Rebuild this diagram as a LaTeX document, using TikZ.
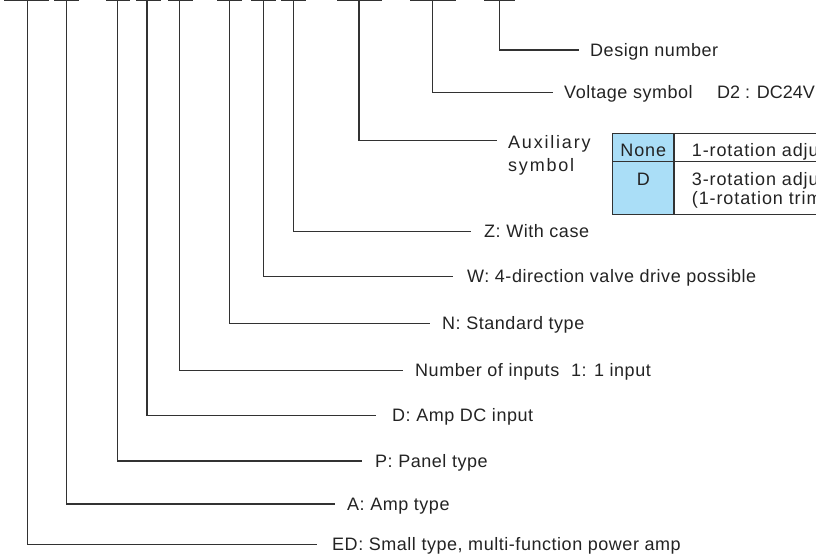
\documentclass[tikz,border=0pt]{standalone}
\usepackage{fontspec}
\setmainfont{Liberation Sans}[LetterSpace=3]
\definecolor{ln}{RGB}{50,50,50}
\definecolor{tx}{RGB}{35,35,35}
\definecolor{cellblue}{RGB}{170,222,247}
\begin{document}
\begin{tikzpicture}[x=1pt,y=-1pt,
  conn/.style={draw=ln,line width=1.1pt},
  bar/.style={draw=ln,line width=1.3pt},
  lbl/.style={anchor=base west,inner sep=0pt,text=tx,font=\fontsize{18}{23.4}\selectfont},
  cell/.style={inner sep=0pt,text=tx,font=\fontsize{18}{19.5}\selectfont\addfontfeature{LetterSpace=5}},
  tbl/.style={draw=ln,line width=1.1pt}]
\useasboundingbox (0,0) rectangle (816,558);
\clip (0,0) rectangle (816,558);
% top bars (character positions)
\foreach \a/\b in {4/49,54/79,106/130,136/161,168/193,217/242,251/276,281/306,337/382,410/456,484/515}
  \draw[bar] (\a,0.7) -- (\b,0.7);
% tick tops
\coordinate (t1) at (27.7,0.7);
\coordinate (t2) at (66.7,0.7);
\coordinate (t3) at (117.3,0.7);
\coordinate (t4) at (147,0.7);
\coordinate (t5) at (179.3,0.7);
\coordinate (t6) at (229.3,0.7);
\coordinate (t7) at (263.3,0.7);
\coordinate (t8) at (293.5,0.7);
\coordinate (t9) at (359,0.7);
\coordinate (t10) at (432.7,0.7);
\coordinate (t11) at (499.3,0.7);
% line ends
\coordinate (e11) at (579,50);
\coordinate (e10) at (552.7,92.3);
\coordinate (e9) at (497,140.5);
\coordinate (e8) at (471,231.7);
\coordinate (e7) at (453,276.7);
\coordinate (e6) at (430,323.3);
\coordinate (e5) at (403,370.5);
\coordinate (e4) at (376,415.7);
\coordinate (e3) at (362,461);
\coordinate (e2) at (335,504);
\coordinate (e1) at (317,544.3);
\foreach \i in {1,...,11}
  \draw[conn] (t\i) |- (e\i);
% labels
\node[lbl] (l11) at (590,56.2) {Design number};
\node[lbl] (l10) at (564,98.5) {\makebox[153pt][l]{Voltage symbol}\addfontfeature{LetterSpace=0}D2 : DC24V};
\node[lbl,align=left,font=\fontsize{18}{23.4}\selectfont\addfontfeature{LetterSpace=10}] (l9) at (508,171.7) {Auxiliary\\symbol};
\node[lbl] (l8) at (484,237.9) {Z: With case};
\node[lbl] (l7) at (467,282.9) {W: 4-direction valve drive possible};
\node[lbl] (l6) at (442,329.5) {N: Standard type};
\node[lbl] (l5) at (415,376.7) {\makebox[156pt][l]{Number of inputs}1: 1 input};
\node[lbl] (l4) at (392,421.9) {D: Amp DC input};
\node[lbl] (l3) at (375,467.2) {P: Panel type};
\node[lbl] (l2) at (347,510.2) {A: Amp type};
\node[lbl] (l1) at (332,550.4) {ED: Small type, multi-function power amp};
% table
\fill[cellblue] (612.7,133.3) rectangle (674,214.3);
\draw[tbl] (612.7,133.3) rectangle (900,214.3);
\draw[tbl] (674,133.3) -- (674,214.3);
\draw[tbl] (612.7,161.7) -- (900,161.7);
\node[cell,anchor=base] (k1) at (643.3,156.7) {None};
\node[cell,anchor=base] (k2) at (643.3,185) {D};
\node[cell,anchor=base west] (v1) at (691.7,156.7) {1-rotation adjustment};
\node[cell,anchor=base west,align=left] (v2) at (691.7,204.5) {3-rotation adjustment\\(1-rotation trimmer)};
\end{tikzpicture}
\end{document}
